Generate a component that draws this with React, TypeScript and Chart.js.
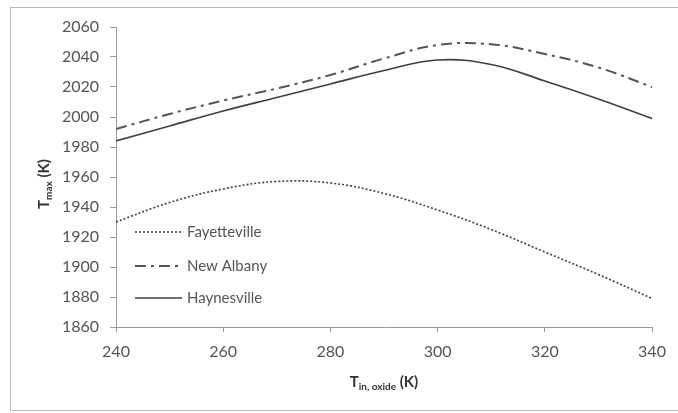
import React, { useEffect, useRef } from "react";
import { Chart, registerables } from "chart.js";

Chart.register(...registerables);

const xValues = [240, 250, 260, 270, 280, 290, 300, 310, 320, 330, 340];
const fayetteville = [1930, 1943, 1952, 1957, 1956, 1949, 1938, 1925, 1910, 1895, 1879];
const newAlbany = [1992, 2002, 2011, 2019, 2028, 2039, 2048, 2048.5, 2042, 2033, 2020];
const haynesville = [1984, 1994, 2004, 2013, 2022, 2031, 2038, 2035, 2024, 2012, 1999];
const seriesNames = ["Fayetteville", "New Albany", "Haynesville"];

const FONT = "Lato, 'Open Sans', sans-serif";
const INK = "#404040";
const TICK = "#555";

export default function App() {
  const ref = useRef<HTMLCanvasElement | null>(null);
  useEffect(() => {
    if (!ref.current) return;
    const mk = (vals: number[]) => xValues.map((x, i) => ({ x, y: vals[i] }));
    const textPlugin = {
      id: "texts",
      afterDraw(chart: any) {
        const ctx = chart.ctx as CanvasRenderingContext2D;
        const area = chart.chartArea;
        ctx.save();
        // legend
        const lx = 135, ly = [232, 266, 298];
        chart.data.datasets.forEach((ds: any, i: number) => {
          ctx.beginPath();
          ctx.strokeStyle = ds.borderColor;
          ctx.lineWidth = ds.borderWidth;
          ctx.setLineDash(ds.borderDash || []);
          ctx.moveTo(lx, ly[i]);
          ctx.lineTo(lx + 47, ly[i]);
          ctx.stroke();
          ctx.setLineDash([]);
          ctx.fillStyle = TICK;
          ctx.font = `15px ${FONT}`;
          ctx.textBaseline = "middle";
          ctx.textAlign = "left";
          ctx.fillText(ds.label, lx + 52, ly[i]);
        });
        // x title
        const xc = (area.left + area.right) / 2;
        const yb = 387;
        ctx.fillStyle = "#333";
        ctx.textBaseline = "alphabetic";
        const p1 = "T", p2 = "in, oxide", p3 = " (K)";
        ctx.font = `bold 15px ${FONT}`;
        const w1 = ctx.measureText(p1).width;
        const w3 = ctx.measureText(p3).width;
        ctx.font = `bold 10px ${FONT}`;
        const w2 = ctx.measureText(p2).width;
        const x0 = xc - (w1 + w2 + w3) / 2;
        ctx.textAlign = "left";
        ctx.font = `bold 15px ${FONT}`;
        ctx.fillText(p1, x0, yb);
        ctx.font = `bold 10px ${FONT}`;
        ctx.fillText(p2, x0 + w1, yb + 3);
        ctx.font = `bold 15px ${FONT}`;
        ctx.fillText(p3, x0 + w1 + w2, yb);
        // y title
        ctx.translate(49, 184);
        ctx.rotate(-Math.PI / 2);
        const q1 = "T", q2 = "max", q3 = " (K)";
        ctx.font = `bold 15px ${FONT}`;
        const v1 = ctx.measureText(q1).width;
        const v3 = ctx.measureText(q3).width;
        ctx.font = `bold 10px ${FONT}`;
        const v2 = ctx.measureText(q2).width;
        const s = -(v1 + v2 + v3) / 2;
        ctx.font = `bold 15px ${FONT}`;
        ctx.fillText(q1, s, 0);
        ctx.font = `bold 10px ${FONT}`;
        ctx.fillText(q2, s + v1, 3);
        ctx.font = `bold 15px ${FONT}`;
        ctx.fillText(q3, s + v1 + v2, 0);
        ctx.restore();
      },
    };
    const chart = new Chart(ref.current, {
      type: "line",
      data: {
        datasets: [
          { label: seriesNames[0], data: mk(fayetteville), borderColor: INK, borderWidth: 1.6, borderDash: [2, 2] },
          { label: seriesNames[1], data: mk(newAlbany), borderColor: "#555", borderWidth: 2, borderDash: [11, 5, 3, 5] },
          { label: seriesNames[2], data: mk(haynesville), borderColor: INK, borderWidth: 1.7 },
        ].map((d) => ({ ...d, pointRadius: 0, fill: false, tension: 0.4 })),
      },
      options: {
        animation: false,
        responsive: false,
        layout: { padding: { left: 0, top: 27, right: 26, bottom: 0 } },
        plugins: { legend: { display: false }, tooltip: { enabled: false } },
        scales: {
          x: {
            type: "linear",
            min: 240,
            max: 340,
            ticks: { stepSize: 20, color: TICK, font: { family: FONT, size: 16 }, padding: 10, callback: (v: any) => String(v) },
            grid: { drawOnChartArea: false, tickLength: 5, color: "#999" },
            border: { color: "#999", width: 1 },
            afterFit: (s: any) => { s.height = 86; },
          },
          y: {
            min: 1860,
            max: 2060,
            ticks: { stepSize: 20, color: TICK, font: { family: FONT, size: 16 }, padding: 11, callback: (v: any) => String(v) },
            grid: { drawOnChartArea: false, tickLength: 6, color: "#999" },
            border: { color: "#999", width: 1 },
            afterFit: (s: any) => { s.width = 116; },
          },
        },
      },
      plugins: [textPlugin],
    });
    return () => chart.destroy();
  }, []);
  return (
    <div style={{ position: "fixed", left: 0, top: 0, width: 678, height: 413, background: "#fff" }}>
      <div style={{ position: "absolute", left: 10, top: 7, width: 670, height: 402, border: "1px solid #bdbdbd" }} />
      <canvas ref={ref} width={678} height={413} style={{ position: "absolute", left: 0, top: 0 }} />
    </div>
  );
}
